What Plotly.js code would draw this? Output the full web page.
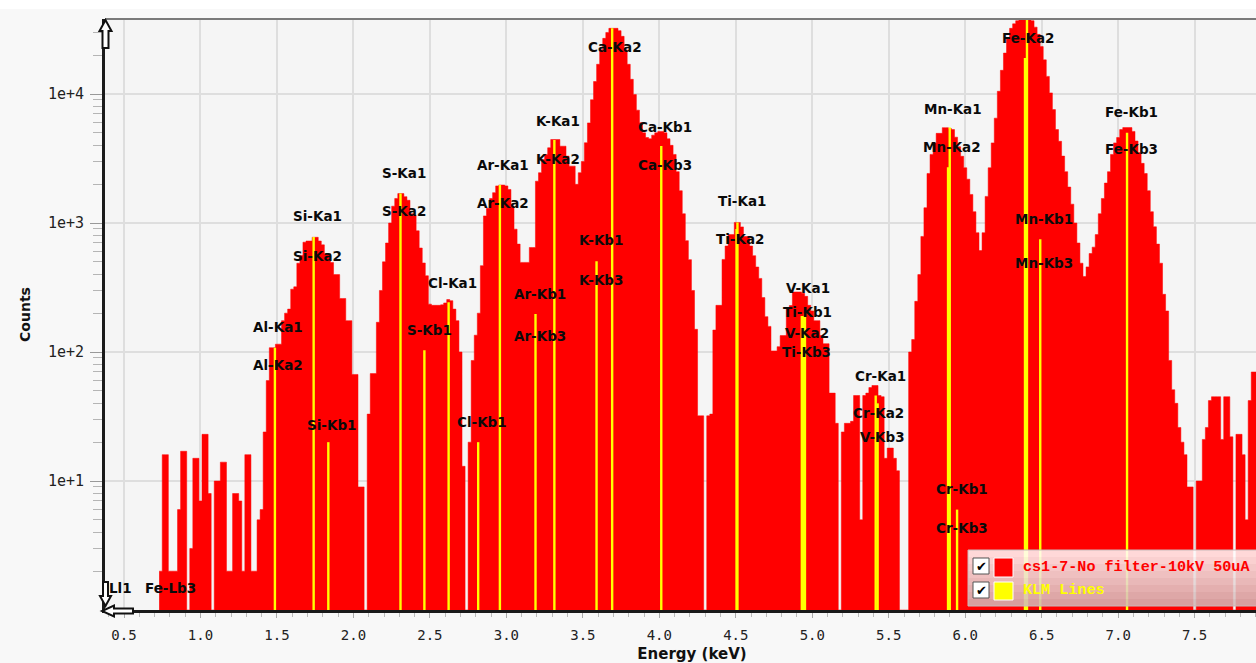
<!DOCTYPE html>
<html><head><meta charset="utf-8">
<script src="https://cdn.plot.ly/plotly-3.0.1.min.js"></script>
<style>html,body{margin:0;padding:0;overflow:hidden;background:#ffffff;} #chart{width:1280px;height:663px;}</style>
</head><body><div id="chart"></div>
<script>
// ---------------- data ----------------
const seriesName = 'cs1-7-No filter-10kV 50uA';
const klmName = 'KLM Lines';
const energyStart = 0.74;   // keV, centre of first channel shown
const channelWidth = 0.02;  // keV per channel
const counts = [
  2,16,16,2,2,2,6,17,17,0,
  3,15,15,7,23,23,8,0,10,10,
  14,14,2,2,8,8,7,2,16,16,
  2,2,5,6,24,60,108,108,115,115,
  175,200,215,307,320,488,560,710,725,725,
  775,775,725,677,578,578,494,398,398,260,
  260,175,175,67,67,9,9,0,33,68,
  68,170,300,500,700,1000,1350,1550,1690,1690,
  1600,1500,1180,1150,870,640,490,390,235,230,
  230,230,232,240,255,250,215,175,100,13,
  0,20,86,135,200,467,1135,1300,1550,1720,
  1940,1970,1970,1940,1820,1355,896,686,495,495,
  495,646,646,2110,2455,3110,3400,3830,4440,4440,
  4440,3940,3940,3300,2760,2760,1995,2455,3000,4190,
  5970,9030,12500,17000,22000,27000,30000,32300,32300,32300,
  31000,28000,22000,17000,13000,9900,7500,6000,5000,4600,
  4500,4800,5000,5130,5130,5000,4500,4000,3400,2500,
  1780,1180,730,520,300,150,32,32,0,32,
  33,148,230,230,522,663,813,813,1010,1010,
  933,785,785,663,558,456,372,264,188,158,
  102,102,110,134,134,220,229,292,292,292,
  285,270,230,208,175,175,134,116,116,48,
  48,28,0,24,28,28,29,46,46,5,
  46,48,53,55,55,46,45,15,18,18,
  15,12,0,0,0,100,125,247,398,787,
  1313,2422,3404,4180,4955,4955,5486,5486,5400,5300,
  4628,3900,3290,2680,2187,1665,1224,841,611,841,
  1608,2680,4180,6500,10500,15270,20760,27240,32300,35000,
  37000,38000,38800,38800,38800,37000,33000,29000,23300,18400,
  13700,10200,7570,5300,4300,3300,2500,1900,1400,1000,
  700,488,385,457,580,650,813,1180,1550,2040,
  2500,3400,4180,4600,5300,5490,5490,5490,5130,4320,
  3520,2900,2420,1780,1224,935,686,488,280,208,
  86,51,40,26,20,16,9,9,0,10,
  10,21,26,42,45,45,45,21,45,45,
  22,0,23,23,16,5,42,70,70
];
const energies = counts.map((_, i) => +(energyStart + i * channelWidth).toFixed(3));

// KLM marker lines (energy keV, height in counts)
const klmEnergy = [1.4867,1.7400,1.8359,2.3078,2.4640,2.6224,2.8156,2.9577,3.1905,3.3138,3.5896,3.6917,4.0127,4.5049,4.5108,4.9318,4.9441,4.9522,5.4147,5.4273,5.8877,5.8988,5.9467,6.3908,6.4038,6.4905,7.0580];
const klmCounts = [108,780,20,1690,103,243,20,1970,197,4400,505,32300,3960,900,1010,190,190,200,46,40,2700,5500,6,19000,37500,750,5000];

// KLM labels: text, energy (keV), log10(counts) position
const labelText = ['Ll1','Fe-Lb3','Al-Ka1','Al-Ka2','Si-Ka1','Si-Ka2','Si-Kb1','S-Ka1','S-Ka2','S-Kb1','Cl-Ka1','Cl-Kb1','Ar-Ka1','Ar-Ka2','Ar-Kb1','Ar-Kb3','K-Ka1','K-Ka2','K-Kb1','K-Kb3','Ca-Ka2','Ca-Kb1','Ca-Kb3','Ti-Ka1','Ti-Ka2','V-Ka1','Ti-Kb1','V-Ka2','Ti-Kb3','Cr-Ka1','Cr-Ka2','V-Kb3','Mn-Ka1','Mn-Ka2','Cr-Kb1','Cr-Kb3','Fe-Ka2','Mn-Kb1','Mn-Kb3','Fe-Kb1','Fe-Kb3'];
const labelX = [0.480,0.807,1.507,1.507,1.762,1.762,1.854,2.331,2.331,2.495,2.645,2.841,2.978,2.978,3.220,3.220,3.338,3.338,3.619,3.619,3.710,4.037,4.037,4.541,4.528,4.973,4.966,4.966,4.960,5.443,5.436,5.456,5.920,5.914,5.979,5.979,6.410,6.515,6.515,7.084,7.084];
const labelY = [0.172,0.172,2.195,1.902,3.052,2.744,1.431,3.384,3.091,2.172,2.535,1.454,3.446,3.153,2.450,2.126,3.794,3.500,2.867,2.558,4.365,3.747,3.446,3.168,2.875,2.497,2.311,2.149,2.002,1.817,1.524,1.338,3.886,3.593,0.937,0.635,4.435,3.029,2.690,3.863,3.570];

const xTickVals = [0.5,1,1.5,2,2.5,3,3.5,4,4.5,5,5.5,6,6.5,7,7.5];
const xTickText = ['0.5','1.0','1.5','2.0','2.5','3.0','3.5','4.0','4.5','5.0','5.5','6.0','6.5','7.0','7.5'];
const yTickVals = [10,100,1000,10000];
const yTickText = ['1e+1','1e+2','1e+3','1e+4'];

// log-axis floor: the axis starts at 1 count, so empty channels sit on the floor
const axisFloor = 1;
// step outline of the channel histogram (each channel spans its full width)
const stepX = [], stepY = [];
counts.forEach((c, i) => {
  stepX.push(+(energies[i] - channelWidth / 2).toFixed(3), +(energies[i] + channelWidth / 2).toFixed(3));
  stepY.push(Math.max(c, axisFloor), Math.max(c, axisFloor));
});
// KLM markers as vertical lines from the axis floor up to their height
const klmX = [], klmY = [];
klmEnergy.forEach((e, i) => { klmX.push(e, e, null); klmY.push(axisFloor, klmCounts[i], null); });

// ---------------- layout helpers ----------------
const W = 1280, H = 663, ML = 105, MR = 1, MT = 19, MB = 53;
const PW = W - ML - MR, PH = H - MT - MB;
const px = x => (x - ML) / PW;
const py = y => (H - MB - y) / PH;
const pathOf = pts => pts.map((p, i) => (i ? 'L' : 'M') + px(p[0]).toFixed(5) + ',' + py(p[1]).toFixed(5)).join(' ') + ' Z';

const minorX = [];
for (let i = 4; i <= 80; i++) minorX.push(+(i / 10).toFixed(1));
const minorY = [];
for (let d = 0; d <= 4; d++) for (let m = 2; m <= 9; m++) { const v = m * Math.pow(10, d); if (Math.log10(v) < 4.58) minorY.push(v); }

const shapes = [];
shapes.push({type:'rect', xref:'paper', yref:'paper', x0:px(0), x1:px(W), y0:py(0), y1:py(9), fillcolor:'#ffffff', line:{width:0}, layer:'below'});
shapes.push({type:'line', xref:'paper', yref:'paper', x0:0, x1:1, y0:1, y1:1, line:{color:'#7a7a7a', width:2}});
const arrowStyle = {fillcolor:'#ffffff', line:{color:'#111111', width:2}};
shapes.push(Object.assign({type:'path', xref:'paper', yref:'paper', path: pathOf([[102.5,48],[102.5,31],[99.5,31],[105.5,20],[111.5,31],[108.5,31],[108.5,48]])}, arrowStyle));
shapes.push(Object.assign({type:'path', xref:'paper', yref:'paper', path: pathOf([[103,582],[108,582],[108,596],[111,596],[105.5,606],[100,596],[103,596]])}, arrowStyle));
shapes.push(Object.assign({type:'path', xref:'paper', yref:'paper', path: pathOf([[133,608.5],[114,608.5],[114,605.5],[102,611],[114,616.5],[114,613.5],[133,613.5]])}, arrowStyle));
const lgTop = 550, lgBot = 606, lgLeft = 968, nStrip = 8;
for (let i = 0; i < nStrip; i++) {
  const t = i / (nStrip - 1);
  const r = Math.round(255 - 45 * t), g = Math.round(252 - 67 * t), b = Math.round(252 - 67 * t);
  const y0 = lgTop + (lgBot - lgTop) * i / nStrip, y1 = lgTop + (lgBot - lgTop) * (i + 1) / nStrip;
  shapes.push({type:'rect', xref:'paper', yref:'paper', x0:px(lgLeft), x1:px(W + 5), y0:py(y1), y1:py(y0), fillcolor:`rgba(${r},${g},${b},0.86)`, line:{width:0}});
}
shapes.push({type:'rect', xref:'paper', yref:'paper', x0:px(lgLeft), x1:px(W + 5), y0:py(lgBot), y1:py(lgTop), fillcolor:'rgba(0,0,0,0)', line:{color:'#c9b9b9', width:1}});
[[558,574],[582,598]].forEach(r => shapes.push({type:'rect', xref:'paper', yref:'paper', x0:px(973), x1:px(989), y0:py(r[1]), y1:py(r[0]), fillcolor:'#ffffff', line:{color:'#555555', width:1}}));
shapes.push({type:'rect', xref:'paper', yref:'paper', x0:px(994), x1:px(1013), y0:py(577), y1:py(558), fillcolor:'#ff0000', line:{color:'#ffffff', width:1}});
shapes.push({type:'rect', xref:'paper', yref:'paper', x0:px(994), x1:px(1013), y0:py(600), y1:py(582), fillcolor:'#ffff00', line:{color:'#ffffff', width:1}});

const annotations = labelText.map((t, i) => ({
  x: labelX[i], y: labelY[i], xref:'x', yref:'y', text:'<b>' + t + '</b>', showarrow:false,
  xanchor:'center', yanchor:'middle', font:{family:'DejaVu Sans', size:13.5, color:'#0a0a0a'}
}));
annotations.push({x:px(981), y:py(566), xref:'paper', yref:'paper', text:'✔', showarrow:false, xanchor:'center', yanchor:'middle', font:{family:'DejaVu Sans', size:13, color:'#000'}});
annotations.push({x:px(981), y:py(590), xref:'paper', yref:'paper', text:'✔', showarrow:false, xanchor:'center', yanchor:'middle', font:{family:'DejaVu Sans', size:13, color:'#000'}});
annotations.push({x:px(1021), y:py(567), xref:'paper', yref:'paper', text:'<b>' + seriesName + '</b>', showarrow:false, xanchor:'left', yanchor:'middle', font:{family:'Liberation Mono', size:15.1, color:'#ff0000'}});
annotations.push({x:px(1021), y:py(590), xref:'paper', yref:'paper', text:'<b>' + klmName + '</b>', showarrow:false, xanchor:'left', yanchor:'middle', font:{family:'Liberation Mono', size:15.1, color:'#ffff00'}});

const traces = [
  {type:'scatter', mode:'lines', name:seriesName, x:stepX, y:stepY,
   line:{color:'#ff0000', width:0.5, simplify:false}, fill:'tozeroy', fillcolor:'#ff0000', showlegend:false, hoverinfo:'x+y'},
  {type:'scatter', mode:'lines', name:klmName, x:klmX, y:klmY, connectgaps:false,
   line:{color:'#ffff00', width:2.4}, showlegend:false, hoverinfo:'x+y'}
];

const tickFont = {family:'DejaVu Sans Mono', size:14, color:'#222222'};
const layout = {
  width:W, height:H, margin:{l:ML, r:MR, t:MT, b:MB, pad:0},
  paper_bgcolor:'#f8f8f8', plot_bgcolor:'#f5f5f5', showlegend:false,
  xaxis:{range:[0.3758, 8.0515], tickmode:'array', tickvals:xTickVals, ticktext:xTickText,
    ticks:'outside', ticklen:5, tickcolor:'#aaaaaa', tickwidth:1, tickfont:tickFont, ticklabelstandoff:5,
    minor:{tickmode:'array', tickvals:minorX, ticks:'outside', ticklen:4, tickcolor:'#bbbbbb', showgrid:false},
    showgrid:true, gridcolor:'#dedede', gridwidth:2, zeroline:false,
    showline:true, linecolor:'#1a1a1a', linewidth:3,
    title:{text:'<b>Energy (keV)</b>', font:{family:'DejaVu Sans', size:15, color:'#111111'}, standoff:8}},
  yaxis:{type:'log', range:[0, 4.5815], tickmode:'array', tickvals:yTickVals, ticktext:yTickText,
    ticks:'outside', ticklen:12, tickcolor:'#999999', tickwidth:1, tickfont:{family:'DejaVu Sans Mono', size:15, color:'#222222'}, ticklabelstandoff:3,
    minor:{tickmode:'array', tickvals:minorY, ticks:'outside', ticklen:9, tickcolor:'#b5b5b5', showgrid:false},
    showgrid:true, gridcolor:'#dedede', gridwidth:2, zeroline:false,
    showline:true, linecolor:'#1a1a1a', linewidth:3,
    title:{text:'<b>Counts</b>', font:{family:'DejaVu Sans', size:14, color:'#111111'}, standoff:14}},
  shapes:shapes, annotations:annotations
};
Plotly.newPlot('chart', traces, layout, {displayModeBar:false, staticPlot:true});
</script>
</body></html>
